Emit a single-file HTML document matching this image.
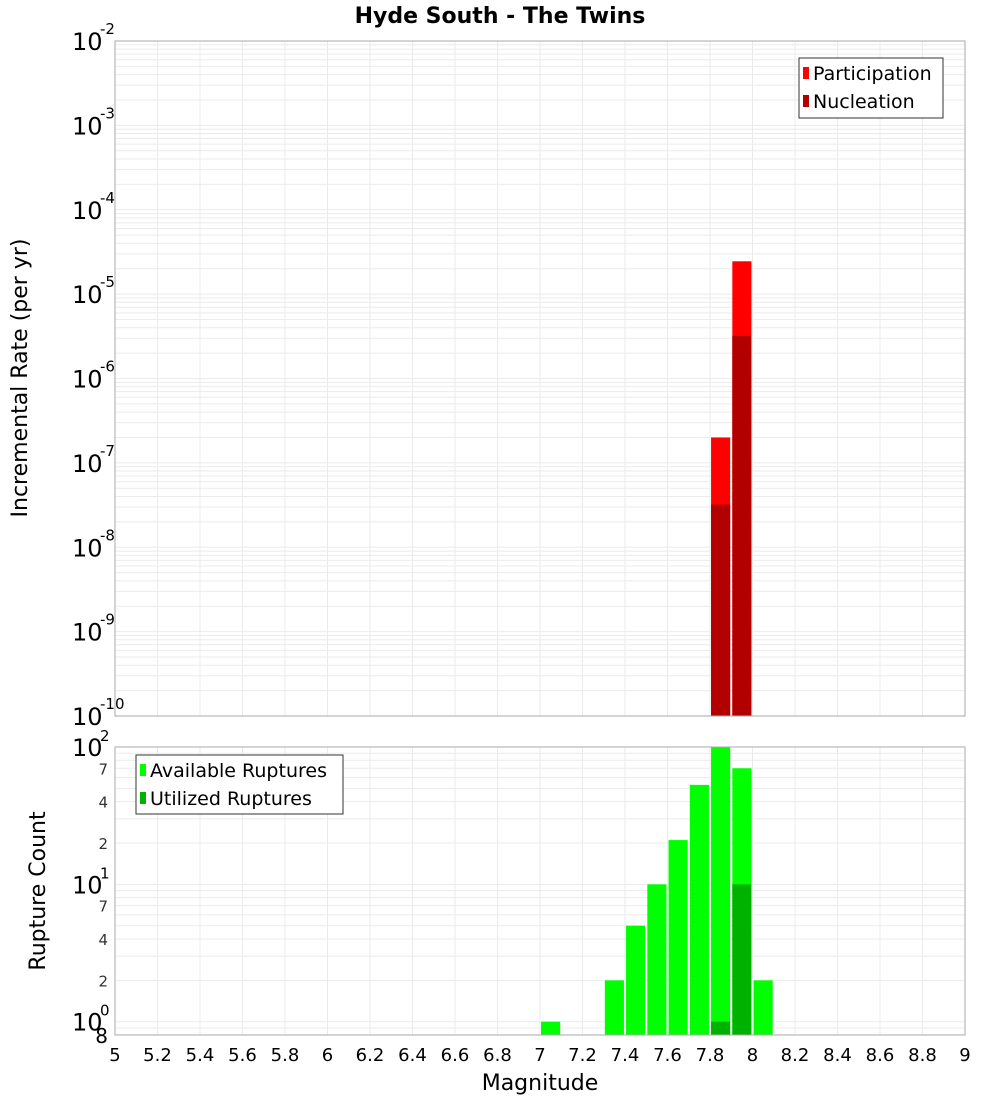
<!DOCTYPE html>
<html><head><meta charset="utf-8"><style>
body{margin:0;background:#fff;}
svg{display:block;font-family:"DejaVu Sans","Liberation Sans",sans-serif;}
</style></head><body>
<svg id="c" width="1000" height="1100" xmlns="http://www.w3.org/2000/svg">
<text x="500" y="23" text-anchor="middle" font-size="22" font-weight="bold">Hyde South - The Twins</text>
<g id="topG"></g><g id="botG"></g>
<text transform="translate(27,378) rotate(-90)" text-anchor="middle" font-size="22">Incremental Rate (per yr)</text>
<text transform="translate(45,891) rotate(-90)" text-anchor="middle" font-size="22">Rupture Count</text>
<text x="540" y="1090" text-anchor="middle" font-size="22">Magnitude</text>
<g>
<rect x="799" y="58" width="144" height="60" fill="#fff" stroke="#333"/>
<rect x="803" y="67" width="6" height="12" fill="#ff0000"/>
<text x="813" y="80" font-size="19">Participation</text>
<rect x="803" y="95" width="6" height="12" fill="#b20000"/>
<text x="813" y="108" font-size="19">Nucleation</text>
</g>
<g>
<rect x="136" y="755" width="207" height="59" fill="#fff" stroke="#333"/>
<rect x="140" y="764" width="6" height="12" fill="#00ff00"/>
<text x="150" y="777" font-size="19">Available Ruptures</text>
<rect x="140" y="792" width="6" height="12" fill="#00b200"/>
<text x="150" y="805" font-size="19">Utilized Ruptures</text>
</g>
</svg>
<script>
const mags=[7.05,7.35,7.45,7.55,7.65,7.75,7.85,7.95,8.05];
const available=[1,2,5,10,21,53,100,70,2];
const utilizedMags=[7.85,7.95];
const utilized=[1,10];
const rateMags=[7.85,7.95];
const participation=[2.0e-7,2.45e-5];
const nucleation=[3.2e-8,3.2e-6];
const xTicks=[5,5.2,5.4,5.6,5.8,6,6.2,6.4,6.6,6.8,7,7.2,7.4,7.6,7.8,8,8.2,8.4,8.6,8.8,9];
const topDecades=[-10,-9,-8,-7,-6,-5,-4,-3,-2];
const botMinorLabels=[2,4,7,20,40,70];

const NS="http://www.w3.org/2000/svg";
const L=115,R=965;
const x=m=>L+(m-5)/4*(R-L);
const T0=41,T1=716,yT=v=>T0+(-2-Math.log10(v))/8*(T1-T0);
const B0=747,B1=1035,lo=Math.log10(0.8),yB=v=>B0+(2-Math.log10(v))/(2-lo)*(B1-B0);
function el(p,t,a,txt){const e=document.createElementNS(NS,t);for(const k in a)e.setAttribute(k,a[k]);if(txt!==undefined)e.textContent=txt;p.appendChild(e);return e;}
const topG=document.getElementById('topG'),botG=document.getElementById('botG');

xTicks.forEach(t=>{
 const g1=el(topG,'line',{x1:x(t),x2:x(t),y1:T0,y2:T1,stroke:'#ebebeb'});
 
 
 const g2=el(botG,'line',{x1:x(t),x2:x(t),y1:B0,y2:B1,stroke:'#ebebeb'});
 
 
});
for(let d=-10;d<-2;d++)for(let k=1;k<10;k++){const y=yT(k*Math.pow(10,d));
 const g=el(topG,'line',{x1:L,x2:R,y1:y,y2:y,stroke:'#ebebeb'});
 
 }
[0.8,0.9,1,2,3,4,5,6,7,8,9,10,20,30,40,50,60,70,80,90,100].forEach(v=>{const y=yB(v);
 const g=el(botG,'line',{x1:L,x2:R,y1:y,y2:y,stroke:'#ebebeb'});
 
 });

const bw=(0.09/4)*(R-L);
rateMags.forEach((m,i)=>{
 const b=el(topG,'rect',{x:x(m)-bw/2,y:yT(participation[i]),width:bw,height:T1-yT(participation[i]),fill:'#ff0000'});
 
 
 const n=el(topG,'rect',{x:x(m)-bw/2,y:yT(nucleation[i]),width:bw,height:T1-yT(nucleation[i]),fill:'#b20000'});
 
 
});
mags.forEach((m,i)=>{
 const b=el(botG,'rect',{x:x(m)-bw/2,y:yB(available[i]),width:bw,height:B1-yB(available[i]),fill:'#00ff00'});
 
 
});
utilizedMags.forEach((m,i)=>{
 const b=el(botG,'rect',{x:x(m)-bw/2,y:yB(utilized[i]),width:bw,height:B1-yB(utilized[i]),fill:'#00b200'});
 
 
});

const f1=el(topG,'rect',{x:L,y:T0,width:R-L,height:T1-T0,fill:'none',stroke:'#aaa'});


const f2=el(botG,'rect',{x:L,y:B0,width:R-L,height:B1-B0,fill:'none',stroke:'#aaa'});



xTicks.forEach(t=>{
 const tl=el(botG,'text',{x:x(t),y:1061,'text-anchor':'middle','font-size':18},String(t));
 
 
});
topDecades.forEach(d=>{const y=yT(Math.pow(10,d));
 const g=el(topG,'g',{});
 
 
 el(g,'text',{x:72,y:y+9,'font-size':24},'10');
 el(g,'text',{x:100,y:y-7,'font-size':15},String(d));
});
[[100,'2'],[10,'1'],[1,'0']].forEach(([v,e])=>{const y=yB(v);
 const g=el(botG,'g',{});
 
 
 el(g,'text',{x:72,y:y+9,'font-size':24},'10');
 el(g,'text',{x:100,y:y-6,'font-size':15},e);
});
botMinorLabels.forEach(v=>{const y=yB(v);
 const t=el(botG,'text',{x:108,y:y+6,'text-anchor':'end','font-size':15,fill:'#333'},String(v).charAt(0));
 
 
});
const t8=el(botG,'text',{x:108,y:yB(0.8)+8,'text-anchor':'end','font-size':20},'8');


</script>
</body></html>
